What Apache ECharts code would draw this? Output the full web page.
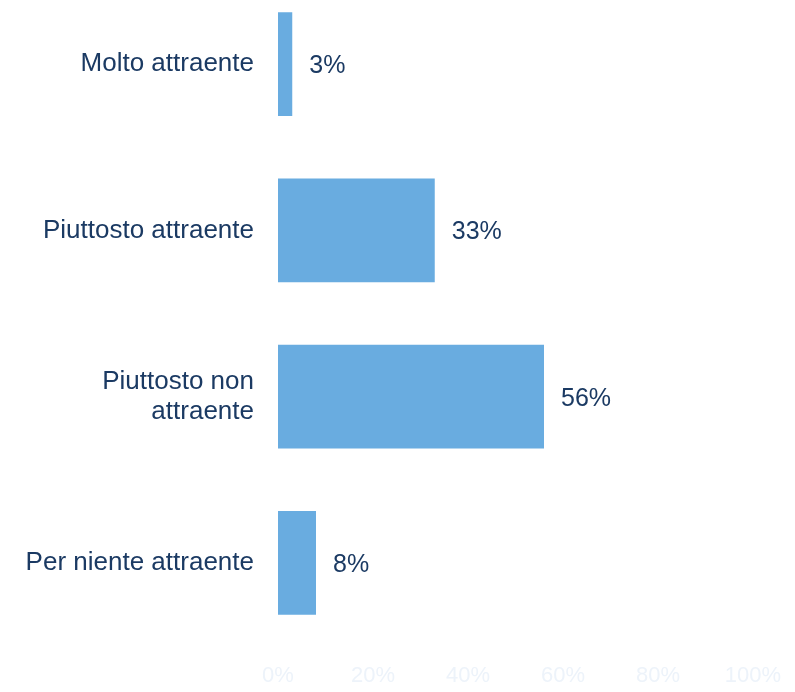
<!DOCTYPE html>
<html>
<head>
<meta charset="utf-8">
<script src="https://cdn.jsdelivr.net/npm/echarts@6/dist/echarts.min.js"></script>
<style>
html,body{margin:0;padding:0;background:#fff;overflow:hidden;}
#wrap{position:relative;width:795px;height:692px;overflow:hidden;}
#chart{position:absolute;left:0;top:-19px;width:795px;height:711px;}
</style>
</head>
<body>
<div id="wrap"><div id="chart"></div></div>
<script>
const categories = ["Molto attraente", "Piuttosto attraente", "Piuttosto non\nattraente", "Per niente attraente"];
const values = [3, 33, 56, 8];
const xTicks = [0, 20, 40, 60, 80, 100];

const chart = echarts.init(document.getElementById('chart'), null, {renderer: 'canvas'});
chart.setOption({
  animation: false,
  backgroundColor: '#ffffff',
  grid: {left: 278, right: 42, top: 0, bottom: 46, containLabel: false},
  xAxis: {
    type: 'value', min: xTicks[0], max: xTicks[xTicks.length - 1], interval: xTicks[1] - xTicks[0],
    axisLine: {show: false}, axisTick: {show: false}, splitLine: {show: false},
    axisLabel: {formatter: '{value}%', color: '#EDF3FA', fontSize: 22, fontFamily: 'Liberation Sans, Arial, sans-serif', margin: 19}
  },
  yAxis: {
    type: 'category', data: categories, inverse: true,
    axisLine: {show: false}, axisTick: {show: false},
    axisLabel: {color: '#1B3A63', fontSize: 26, fontFamily: 'Liberation Sans, Arial, sans-serif', margin: 24, align: 'right', lineHeight: 30, padding: [4, 0, 0, 0]}
  },
  series: [{
    type: 'bar', data: values, barCategoryGap: '37.5%',
    itemStyle: {color: '#69ACE0'},
    label: {show: true, position: 'right', distance: 17, offset: [0, 2], formatter: '{c}%', color: '#1B3A63', fontSize: 25, fontFamily: 'Liberation Sans, Arial, sans-serif'}
  }]
});
</script>
</body>
</html>
